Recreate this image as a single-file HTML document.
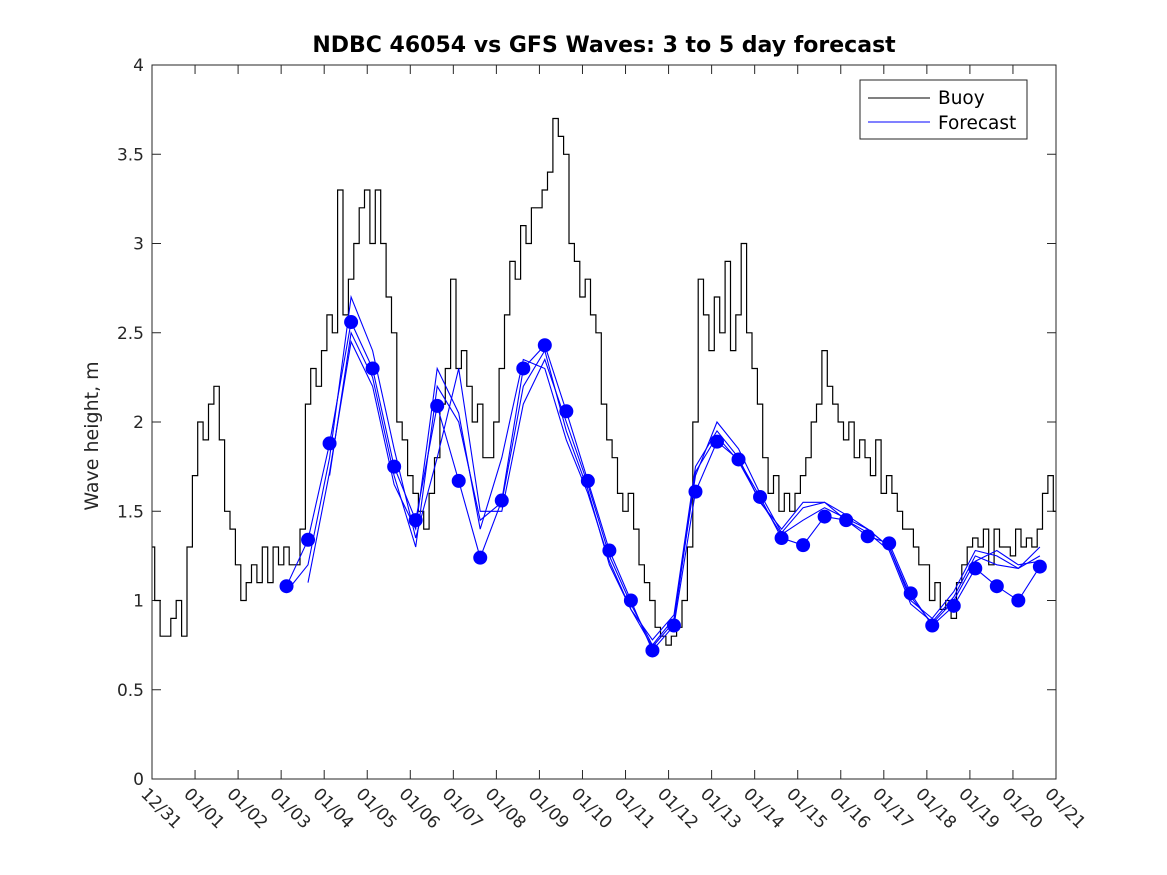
<!DOCTYPE html>
<html><head><meta charset="utf-8"><style>body{margin:0;background:#fff}svg{display:block;font-family:"DejaVu Sans","Liberation Sans",sans-serif}</style></head>
<body>
<svg id="chart" width="1167" height="875" viewBox="0 0 1167 875">
<rect width="1167" height="875" fill="#fff"/>
<text x="604" y="52" text-anchor="middle" font-size="22" font-weight="bold" fill="#000">NDBC 46054 vs GFS Waves: 3 to 5 day forecast</text>
<text transform="translate(98,436) rotate(-90)" text-anchor="middle" font-size="19" fill="#262626">Wave height, m</text>
<g id="plot"></g>
<rect x="152" y="65" width="904" height="714" fill="none" stroke="#262626" stroke-width="1"/>
<g>
<rect x="860" y="80" width="167" height="59" fill="#fff" stroke="#262626"/>
<line x1="868" y1="98" x2="930" y2="98" stroke="#000"/>
<text x="938" y="104" font-size="18.5" fill="#000">Buoy</text>
<line x1="868" y1="122" x2="930" y2="122" stroke="#00f"/>
<text x="938" y="129" font-size="18.5" fill="#000">Forecast</text>
</g>
</svg>
<script>
const xLabels=["12/31","01/01","01/02","01/03","01/04","01/05","01/06","01/07","01/08","01/09","01/10","01/11","01/12","01/13","01/14","01/15","01/16","01/17","01/18","01/19","01/20","01/21"];
const yTicks=[0,0.5,1,1.5,2,2.5,3,3.5,4];
const buoyH=[1.3,1.0,0.8,0.8,0.9,1.0,0.8,1.3,
1.7,2.0,1.9,2.1,2.2,1.9,1.5,1.4,
1.2,1.0,1.1,1.2,1.1,1.3,1.1,1.3,
1.2,1.3,1.2,1.2,1.4,2.1,2.3,2.2,
2.4,2.6,2.5,3.3,2.6,2.8,3.0,3.2,
3.3,3.0,3.3,3.0,2.7,2.5,2.0,1.9,
1.7,1.6,1.5,1.4,1.6,1.8,2.1,2.3,
2.8,2.3,2.4,2.2,2.0,2.1,1.8,1.8,
2.0,2.3,2.6,2.9,2.8,3.1,3.0,3.2,
3.2,3.3,3.4,3.7,3.6,3.5,3.0,2.9,
2.7,2.8,2.6,2.5,2.1,1.9,1.8,1.6,
1.5,1.6,1.4,1.2,1.1,1.0,0.85,0.8,
0.75,0.8,0.85,1.0,1.3,2.0,2.8,2.6,
2.4,2.7,2.5,2.9,2.4,2.6,3.0,2.5,
2.3,2.1,1.8,1.6,1.7,1.5,1.6,1.5,
1.6,1.7,1.8,2.0,2.1,2.4,2.2,2.1,
2.0,1.9,2.0,1.8,1.9,1.8,1.7,1.9,
1.6,1.7,1.6,1.5,1.4,1.4,1.3,1.2,
1.2,1.0,1.1,0.95,1.0,0.9,1.1,1.2,
1.3,1.35,1.3,1.4,1.2,1.4,1.3,1.3,
1.25,1.4,1.3,1.35,1.3,1.4,1.6,1.7,1.5];
const buoyStepDays=0.125;
const fcStartDay=3.125, fcStepDays=0.5;
const fcDots=[1.08,1.34,1.88,2.56,2.30,1.75,1.45,2.09,1.67,1.24,1.56,2.30,2.43,2.06,1.67,1.28,1.00,0.72,0.86,1.61,1.89,1.79,1.58,1.35,1.31,1.47,1.45,1.36,1.32,1.04,0.86,0.97,1.18,1.08,1.00,1.19];
const fcRun2=[1.05,1.20,1.80,2.70,2.40,1.85,1.35,1.80,2.30,1.50,1.50,2.10,2.35,2.00,1.65,1.25,0.98,0.75,0.90,1.70,2.00,1.85,1.60,1.38,1.52,1.55,1.48,1.40,1.30,1.00,0.90,1.05,1.28,1.25,1.18,1.30];
const fcRun3=[null,1.10,1.72,2.45,2.20,1.65,1.40,2.30,2.05,1.40,1.80,2.35,2.30,1.90,1.60,1.22,0.95,0.78,0.92,1.75,1.95,1.80,1.55,1.40,1.55,1.55,1.45,1.38,1.28,0.98,0.88,1.02,1.25,1.20,1.18,1.25];
const fcRun4=[null,null,1.70,2.50,2.25,1.70,1.30,2.20,2.00,1.45,1.55,2.20,2.40,1.95,1.62,1.20,0.95,0.74,0.88,1.72,1.92,1.78,1.56,1.37,1.45,1.52,1.46,1.40,1.30,1.02,0.87,1.00,1.22,1.28,1.20,1.22];

const NS="http://www.w3.org/2000/svg";
const X0=152,X1=1056,Y0=779,Y1=65;
const xs=d=>X0+(X1-X0)*d/21;
const ys=v=>Y0-(Y0-Y1)*v/4;
const g=document.getElementById('plot');
function mk(t,a){const e=document.createElementNS(NS,t);for(const k in a)e.setAttribute(k,a[k]);g.appendChild(e);return e;}
yTicks.forEach(v=>{
 const y=ys(v);
 const t1=mk('line',{x1:X0,x2:X0+9,y1:y,y2:y,stroke:'#262626'});
 
 
 const t2=mk('line',{x1:X1-9,x2:X1,y1:y,y2:y,stroke:'#262626'});
 
 
 const tx=mk('text',{x:X0-8,y:y+6,'text-anchor':'end','font-size':17,fill:'#262626'});
 tx.textContent=String(v);
 
 
});
xLabels.forEach((l,i)=>{
 const x=xs(i);
 const t1=mk('line',{x1:x,x2:x,y1:Y0,y2:Y0-9,stroke:'#262626'});
 
 
 const t2=mk('line',{x1:x,x2:x,y1:Y1,y2:Y1+9,stroke:'#262626'});
 
 
 const tx=mk('text',{transform:`translate(${x-12},${Y0+16}) rotate(45)`,'font-size':17,fill:'#262626'});
 tx.textContent=l;
 
 
});
function pathFrom(arr,start,step){let d='',pen=false;arr.forEach((v,i)=>{if(v==null){pen=false;return;}d+=(pen?'L':'M')+xs(start+i*step).toFixed(1)+','+ys(v).toFixed(1);pen=true;});return d;}
function stepPath(arr,start,step){let d='';arr.forEach((v,i)=>{const x=xs(start+i*step).toFixed(1),y=ys(v).toFixed(1);if(i===0)d+='M'+x+','+y;else d+='V'+y+'H'+x;const xn=xs(start+(i+0.5)*step).toFixed(1);if(i<arr.length-1)d+='H'+xn;});return d;}
const bl=mk('path',{d:stepPath(buoyH,0,buoyStepDays),fill:'none',stroke:'#000','stroke-width':1.2});


[fcRun2,fcRun3,fcRun4,fcDots].forEach((r,k)=>{
 const p=mk('path',{d:pathFrom(r,fcStartDay,fcStepDays),fill:'none',stroke:'#00f','stroke-width':1.1});
 
 
});
fcDots.forEach((v,i)=>{
 const c=mk('circle',{cx:xs(fcStartDay+i*fcStepDays),cy:ys(v),r:7,fill:'#00f'});
 
 
});
</script>
</body></html>
